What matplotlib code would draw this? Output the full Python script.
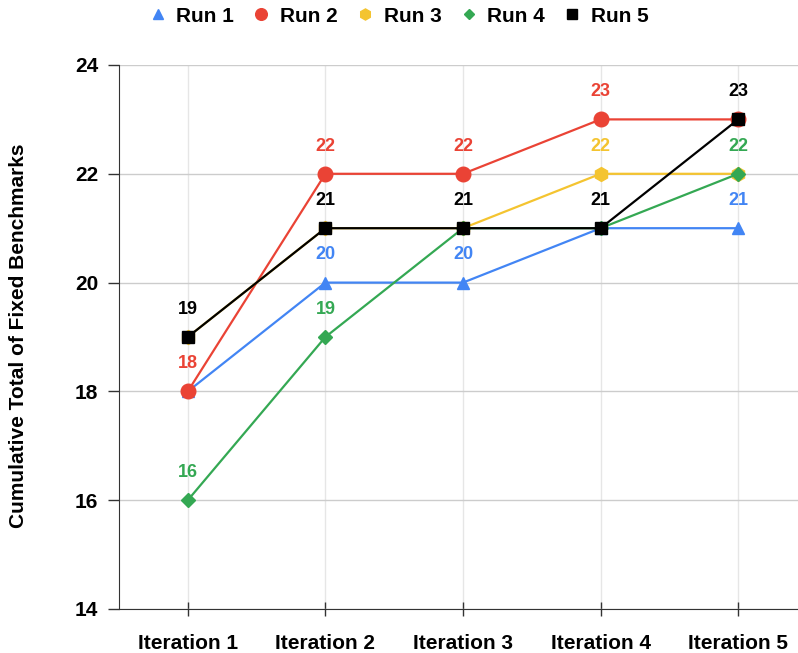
import matplotlib
matplotlib.use("Agg")
import matplotlib.pyplot as plt

plt.rcParams['font.family'] = ['Liberation Sans', 'DejaVu Sans']
plt.rcParams['font.weight'] = 'bold'

iterations = ['Iteration 1', 'Iteration 2', 'Iteration 3', 'Iteration 4', 'Iteration 5']
run1 = [18, 20, 20, 21, 21]
run2 = [18, 22, 22, 23, 23]
run3 = [19, 21, 21, 22, 22]
run4 = [16, 19, 21, 21, 22]
run5 = [19, 21, 21, 21, 23]

# which point labels are drawn (overlapping ones are left out)
show1 = [False, True, True, False, True]
show2 = [True, True, True, True, False]
show3 = [False, False, False, True, False]
show4 = [True, True, False, False, True]
show5 = [True, True, True, True, True]

series = [
    ('Run 1', run1, show1, '#4285F4', '^', 9),
    ('Run 2', run2, show2, '#EA4335', 'o', 10.5),
    ('Run 3', run3, show3, '#F4C430', 'h', 10),
    ('Run 4', run4, show4, '#34A853', 'D', 7),
    ('Run 5', run5, show5, '#000000', 's', 8.5),
]

fig = plt.figure(figsize=(7.98, 6.53), dpi=100)
ax = fig.add_axes([119 / 798, 44 / 653, 688 / 798, 544 / 653])

x = list(range(len(iterations)))
for i, (name, vals, show, color, marker, ms) in enumerate(series):
    ax.plot(x, vals, color=color, lw=1.6, marker=marker, ms=ms,
            label=name, zorder=3 + i, clip_on=False)
    for xi, v, s in zip(x, vals, show):
        if s:
            ax.annotate(str(v), (xi, v), xytext=(0, 20), textcoords='offset points',
                        ha='center', va='center', color=color,
                        fontsize=13, fontweight='bold', zorder=10)

ax.set_xlim(-0.5, 4.5)
ax.set_ylim(14, 24)
ax.set_yticks([14, 16, 18, 20, 22, 24])
ax.set_xticks(x)
ax.set_xticklabels(iterations)
ax.tick_params(axis='y', direction='out', length=8, width=1, color='#333333',
               labelsize=15, pad=7)
ax.tick_params(axis='x', direction='inout', length=10, width=1, color='#333333',
               labelsize=15, pad=13)
for lbl in ax.get_xticklabels() + ax.get_yticklabels():
    lbl.set_fontweight('bold')

ax.yaxis.grid(True, color='#cccccc', lw=1)
ax.xaxis.grid(True, color='#e6e6e6', lw=1)
ax.set_axisbelow(True)
for side in ['top', 'right']:
    ax.spines[side].set_visible(False)
ax.spines['left'].set_color('#333333')
ax.spines['bottom'].set_color('#333333')

ax.set_ylabel('Cumulative Total of Fixed Benchmarks', fontsize=15,
              fontweight='bold')
ax.yaxis.set_label_coords(28 / 798, (653 - 336) / 653, transform=fig.transFigure)

fig.legend(loc='center', bbox_to_anchor=(0.5, 1 - 16 / 653), ncol=5, frameon=False,
           fontsize=15, handlelength=0.8, handletextpad=0.5, columnspacing=0.9,
           markerscale=0.8)
for h in fig.legends[0].get_lines():
    h.set_linestyle('none')
for t in fig.legends[0].get_texts():
    t.set_fontweight('bold')

fig.savefig('out.png', dpi=100)
